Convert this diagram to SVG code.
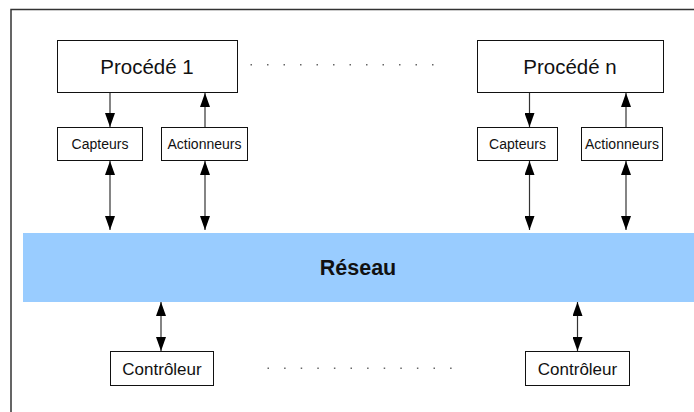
<svg xmlns="http://www.w3.org/2000/svg" width="694" height="412" viewBox="0 0 694 412">
<style>
.box{fill:#fff;stroke:#111;stroke-width:1}
.t{font-family:"Liberation Sans",Arial,sans-serif;fill:#111;text-anchor:middle}
.big{font-size:20.5px}
.sm{font-size:14px}
.md{font-size:17px}
.con line{stroke:#333;stroke-width:1.2}
.dot{fill:#666}
</style>
<defs>
<marker id="ah" markerUnits="userSpaceOnUse" markerWidth="14" markerHeight="10" viewBox="0 0 14 10" refX="14" refY="5" orient="auto-start-reverse">
<path d="M0,0 L14,5 L0,10 z" fill="#000"/>
</marker>
</defs>
<rect width="694" height="412" fill="#fff"/>
<path d="M11 412 V9.5 H694" fill="none" stroke="#333" stroke-width="1.5"/>
<g id="reseau">
<rect x="23" y="233" width="671" height="69" fill="#99ccff"/>
<text class="t" x="358" y="275" font-size="21.5" font-weight="bold">Réseau</text>
</g>
<g id="procede1"><rect class="box" x="57.5" y="40.5" width="180" height="52"/><text class="t big" x="147" y="73.5">Procédé 1</text></g>
<g id="procedeN"><rect class="box" x="477.5" y="40.5" width="186" height="52"/><text class="t big" x="570" y="73.5">Procédé n</text></g>
<g id="capteurs1"><rect class="box" x="57.5" y="127.5" width="85" height="33"/><text class="t sm" x="100" y="148.5">Capteurs</text></g>
<g id="actionneurs1"><rect class="box" x="161.5" y="127.5" width="86" height="33"/><text class="t sm" x="204.5" y="148.5">Actionneurs</text></g>
<g id="capteursN"><rect class="box" x="477.5" y="127.5" width="80" height="33"/><text class="t sm" x="517.5" y="148.5">Capteurs</text></g>
<g id="actionneursN"><rect class="box" x="581.5" y="127.5" width="81" height="33"/><text class="t sm" x="622" y="148.5">Actionneurs</text></g>
<g id="controleur1"><rect class="box" x="110.5" y="351.5" width="103" height="34"/><text class="t md" x="162" y="375">Contrôleur</text></g>
<g id="controleur2"><rect class="box" x="525.5" y="351.5" width="104" height="34"/><text class="t md" x="577.5" y="375">Contrôleur</text></g>
<g class="con" id="connectors">
<line x1="110" y1="93" x2="110" y2="127" marker-end="url(#ah)"/>
<line x1="205" y1="127" x2="205" y2="93" marker-end="url(#ah)"/>
<line x1="529.5" y1="93" x2="529.5" y2="127" marker-end="url(#ah)"/>
<line x1="626" y1="127" x2="626" y2="93" marker-end="url(#ah)"/>
<line x1="110" y1="161" x2="110" y2="230" marker-start="url(#ah)" marker-end="url(#ah)"/>
<line x1="205" y1="161" x2="205" y2="230" marker-start="url(#ah)" marker-end="url(#ah)"/>
<line x1="529.5" y1="161" x2="529.5" y2="230" marker-start="url(#ah)" marker-end="url(#ah)"/>
<line x1="626" y1="161" x2="626" y2="230" marker-start="url(#ah)" marker-end="url(#ah)"/>
<line x1="161" y1="302" x2="161" y2="351" marker-start="url(#ah)" marker-end="url(#ah)"/>
<line x1="577.5" y1="302" x2="577.5" y2="351" marker-start="url(#ah)" marker-end="url(#ah)"/>
</g>
<g id="dots-top" class="dot">
<rect x="250.5" y="64" width="1.5" height="1.5"/><rect x="267" y="64" width="1.5" height="1.5"/><rect x="283.5" y="64" width="1.5" height="1.5"/><rect x="300" y="64" width="1.5" height="1.5"/><rect x="316.5" y="64" width="1.5" height="1.5"/><rect x="333" y="64" width="1.5" height="1.5"/><rect x="349.5" y="64" width="1.5" height="1.5"/><rect x="366" y="64" width="1.5" height="1.5"/><rect x="382.5" y="64" width="1.5" height="1.5"/><rect x="399" y="64" width="1.5" height="1.5"/><rect x="415.5" y="64" width="1.5" height="1.5"/><rect x="432" y="64" width="1.5" height="1.5"/>
</g>
<g id="dots-bottom" class="dot">
<rect x="267.5" y="367.5" width="1.5" height="1.5"/><rect x="284.1" y="367.5" width="1.5" height="1.5"/><rect x="300.7" y="367.5" width="1.5" height="1.5"/><rect x="317.3" y="367.5" width="1.5" height="1.5"/><rect x="333.9" y="367.5" width="1.5" height="1.5"/><rect x="350.5" y="367.5" width="1.5" height="1.5"/><rect x="367.1" y="367.5" width="1.5" height="1.5"/><rect x="383.7" y="367.5" width="1.5" height="1.5"/><rect x="400.3" y="367.5" width="1.5" height="1.5"/><rect x="416.9" y="367.5" width="1.5" height="1.5"/><rect x="433.5" y="367.5" width="1.5" height="1.5"/><rect x="450.1" y="367.5" width="1.5" height="1.5"/>
</g>
</svg>
